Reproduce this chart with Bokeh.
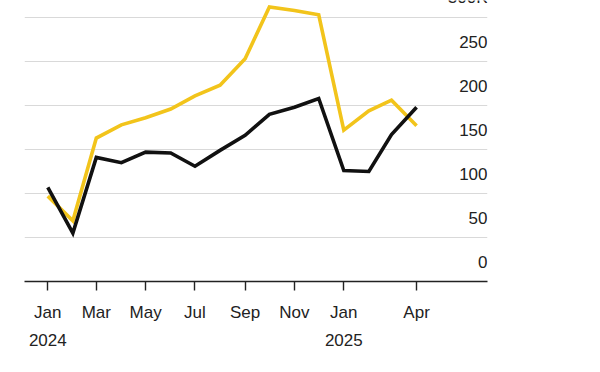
from datetime import datetime, timedelta
from bokeh.plotting import figure
from bokeh.models import FixedTicker, Grid, Range1d, ColumnDataSource
from bokeh.core.properties import value
from bokeh.embed import file_html
from bokeh.resources import INLINE

# ---- data ----
months = ["2024-01", "2024-02", "2024-03", "2024-04", "2024-05", "2024-06",
          "2024-07", "2024-08", "2024-09", "2024-10", "2024-11", "2024-12",
          "2025-01", "2025-02", "2025-03", "2025-04"]
black_series = [107, 55, 141, 135, 147, 146, 131, 149, 166, 190, 198, 208, 126, 125, 167, 198]
yellow_series = [97, 69, 163, 178, 186, 196, 211, 223, 253, 312, 308, 303, 172, 194, 206, 177]

x_tick_months = ["2024-01", "2024-03", "2024-05", "2024-07", "2024-09",
                 "2024-11", "2025-01", "2025-04"]
x_tick_labels = ["Jan\n2024", "Mar", "May", "Jul", "Sep", "Nov", "Jan\n2025", "Apr"]
y_ticks = [0, 50, 100, 150, 200, 250, 300]
y_tick_labels = ["0", "50", "100", "150", "200", "250", "300K"]

FONT = "Liberation Sans"

def to_dt(m):
    return datetime.strptime(m, "%Y-%m")

def to_ms(d):
    return (d - datetime(1970, 1, 1)).total_seconds() * 1000.0

dates = [to_dt(m) for m in months]
x_start = datetime(2024, 1, 1) - timedelta(days=28.8)
x_end = x_start + timedelta(days=572.5)

p = figure(width=592, height=364, x_axis_type="datetime",
           y_axis_location=None, output_backend="svg", toolbar_location=None,
           x_range=Range1d(x_start, x_end), y_range=Range1d(0, 319.3),
           min_border_left=24, min_border_right=105, min_border_top=0,
           min_border_bottom=83)
p.outline_line_color = None
p.background_fill_color = "white"
p.border_fill_color = "white"
p.xgrid.visible = False
p.ygrid.visible = False

grid = Grid(dimension=1, ticker=FixedTicker(ticks=y_ticks[1:]),
            grid_line_color="#d9d9d9", grid_line_width=1.2)
p.add_layout(grid)

src = ColumnDataSource(dict(date=dates, black=black_series, yellow=yellow_series))
p.line("date", "yellow", source=src, line_color="#F2C41B", line_width=3.6,
       line_join="miter")
p.line("date", "black", source=src, line_color="#111111", line_width=3.6,
       line_join="miter")

# right-side value labels sitting above each gridline
lab_src = ColumnDataSource(dict(x=[x_end] * len(y_ticks), y=y_ticks, t=y_tick_labels))
p.text("x", "y", text="t", source=lab_src, text_align="right",
       text_baseline="alphabetic", y_offset=-19.5, x_offset=0,
       text_font=value(FONT), text_font_size="17px", text_color="#222222")

ax = p.xaxis[0]
tick_ms = [to_ms(to_dt(m)) for m in x_tick_months]
ax.ticker = FixedTicker(ticks=tick_ms)
ax.major_label_overrides = {t: l for t, l in zip(tick_ms, x_tick_labels)}
ax.axis_line_color = "#222222"
ax.axis_line_width = 1.6
ax.major_tick_line_color = "#222222"
ax.major_tick_line_width = 1.4
ax.major_tick_in = 0
ax.major_tick_out = 9
ax.minor_tick_line_color = None
ax.major_label_standoff = 12
ax.major_label_text_font = FONT
ax.major_label_text_font_size = "17px"
ax.major_label_text_color = "#222222"
ax.major_label_text_line_height = 1.5

open("out.html", "w").write(file_html(p, INLINE))
